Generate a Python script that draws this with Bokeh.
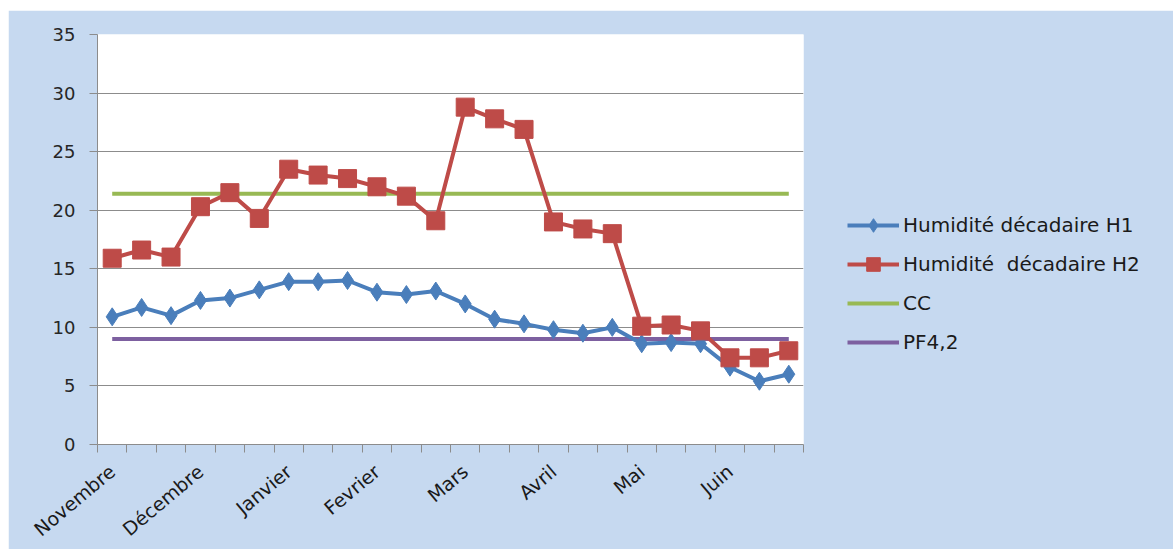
import math
from bokeh.plotting import figure
from bokeh.models import Range1d, FixedTicker, Legend, LegendItem
from bokeh.embed import file_html
from bokeh.resources import INLINE

# ---- data ----
months = ["Novembre", "Décembre", "Janvier", "Fevrier", "Mars", "Avril", "Mai", "Juin"]
decades_per_month = 3
h1 = [10.9, 11.7, 11.0, 12.3, 12.5, 13.2, 13.9, 13.9, 14.0, 13.0, 12.8, 13.1,
      12.0, 10.7, 10.3, 9.8, 9.5, 10.0, 8.6, 8.7, 8.6, 6.6, 5.4, 6.0]
h2 = [15.9, 16.6, 16.0, 20.3, 21.5, 19.3, 23.5, 23.0, 22.7, 22.0, 21.2, 19.1,
      28.8, 27.8, 26.9, 19.0, 18.4, 18.0, 10.1, 10.2, 9.7, 7.4, 7.4, 8.0]
cc = [21.4] * 24
pf = [9.0] * 24
y_ticks = [0, 5, 10, 15, 20, 25, 30, 35]
names = ["Humidité décadaire H1", "Humidité  décadaire H2", "CC", "PF4,2"]

n = len(h1)
xs = [i + 0.5 for i in range(n)]

BLUE = "#4A7EBB"
RED = "#BE4B48"
GREEN = "#98B954"
PURPLE = "#7D60A0"
BG = "#C6D9F0"
GRID = "#8C8C8C"
FONT = "DejaVu Sans"

p = figure(frame_width=706, frame_height=410,
           x_range=Range1d(0, n), y_range=Range1d(0, 35),
           output_backend="svg", toolbar_location=None,
           min_border_left=89, min_border_right=362,
           min_border_top=24, min_border_bottom=97)
p.margin = (10, 0, 0, 8)
p.border_fill_color = BG
p.background_fill_color = "white"
p.outline_line_color = None

# y axis
p.yaxis.ticker = FixedTicker(ticks=y_ticks)
p.yaxis.axis_line_color = GRID
p.yaxis.major_tick_line_color = GRID
p.yaxis.major_tick_out = 8
p.yaxis.major_tick_in = 0
p.yaxis.minor_tick_line_color = None
p.yaxis.major_label_text_font = FONT
p.yaxis.major_label_text_font_size = "18px"
p.yaxis.major_label_text_color = "#262626"
p.yaxis.major_label_standoff = 14
p.ygrid.ticker = FixedTicker(ticks=y_ticks)
p.ygrid.grid_line_color = GRID
p.ygrid.grid_line_width = 1
p.xgrid.grid_line_color = None

# x axis
label_pos = [m * decades_per_month + 0.5 for m in range(len(months))]
p.xaxis.ticker = FixedTicker(ticks=label_pos, minor_ticks=list(range(n + 1)))
p.xaxis.major_label_overrides = {pos: m for pos, m in zip(label_pos, months)}
p.xaxis.axis_line_color = GRID
p.xaxis.major_tick_out = 0
p.xaxis.major_tick_in = 0
p.xaxis.minor_tick_out = 8
p.xaxis.minor_tick_in = 0
p.xaxis.minor_tick_line_color = GRID
p.xaxis.major_label_orientation = math.radians(40)
p.xaxis.major_label_text_font = FONT
p.xaxis.major_label_text_font_size = "19px"
p.xaxis.major_label_text_color = "#1a1a1a"
p.xaxis.major_label_standoff = 16

# series
r_cc = p.line(xs, cc, line_color=GREEN, line_width=4)
r_pf = p.line(xs, pf, line_color=PURPLE, line_width=4)
r1l = p.line(xs, h1, line_color=BLUE, line_width=4)
r1m = p.scatter(xs, h1, marker="diamond", size=18,
                fill_color=BLUE, line_color=BLUE)
r2l = p.line(xs, h2, line_color=RED, line_width=4)
r2m = p.scatter(xs, h2, marker="square", size=18, fill_color=RED, line_color=RED)

legend = Legend(items=[
    LegendItem(label=names[0], renderers=[r1l, r1m]),
    LegendItem(label=names[1], renderers=[r2l, r2m]),
    LegendItem(label=names[2], renderers=[r_cc]),
    LegendItem(label=names[3], renderers=[r_pf]),
], location=(44, 85))
legend.background_fill_alpha = 0
legend.border_line_color = None
legend.padding = 0
legend.margin = 0
legend.spacing = 5
legend.glyph_width = 52
legend.glyph_height = 34
legend.label_height = 34
legend.label_standoff = 4
legend.label_text_font = FONT
legend.label_text_font_size = "20px"
legend.label_text_color = "#1a1a1a"
legend.label_text_baseline = "middle"
p.add_layout(legend, "right")

open("out.html", "w").write(file_html(p, INLINE))
